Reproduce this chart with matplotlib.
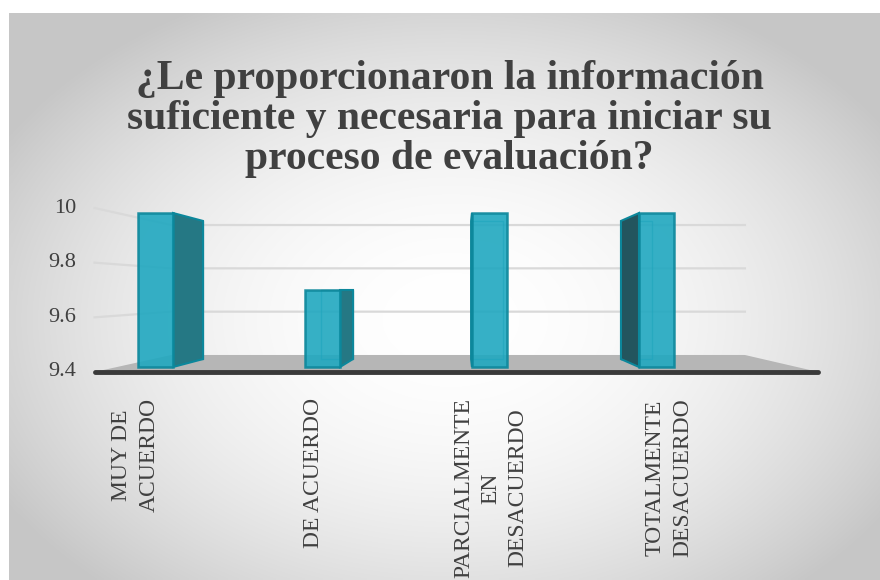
import numpy as np
import matplotlib
matplotlib.use("Agg")
import matplotlib.pyplot as plt

# data
categories = ["MUY DE\nACUERDO", "DE ACUERDO", "PARCIALMENTE\nEN\nDESACUERDO", "TOTALMENTE\nDESACUERDO"]
values = [10, 9.7, 10, 10]
yticks = [9.4, 9.6, 9.8, 10]
ytick_labels = ["9.4", "9.6", "9.8", "10"]
title = "¿Le proporcionaron la información\nsuficiente y necesaria para iniciar su\nproceso de evaluación?"

ymin = 9.4
bar_w = 0.21

# fake perspective (vanishing point + depth scale), all in data units of the bar plane
vx, vy = 1.847, 9.7
k_front, k_back = 1.065, 0.844
k_bar = 0.897
x_left, x_right = -0.23, 3.84

face_col = "#20a8c0"
edge_col = "#0c879b"
side_right = "#257884"
side_left = "#23555e"
txt_col = "#404040"


def proj(x, v, k):
    return vx + (x - vx) * k, vy + (v - vy) * k


fig = plt.figure(figsize=(8.8, 5.8), dpi=100)

# radial gradient background
bg = fig.add_axes([9 / 880, 0, 871 / 880, 567 / 580])
W, H = 871, 567
xx, yy = np.meshgrid(np.arange(W) + 9, np.arange(H) + 13)
t = ((xx - 450) / 520) ** 2 + ((yy - 320) / 360) ** 2
g = 255 - 57 * np.clip(t, 0, 1)
bg.imshow(np.dstack([g, g, g]).astype(np.uint8), aspect="auto", interpolation="bilinear")
bg.axis("off")

ax = fig.add_axes([0, 0, 1, 1])
ax.set_facecolor("none")
ax.set_xlim(-0.931, 4.338)
ax.set_ylim(8.570, 10.830)
ax.axis("off")

# floor
floor = [proj(x_left, ymin, k_front), proj(x_right, ymin, k_front),
         proj(x_right, ymin, k_back), proj(x_left, ymin, k_back)]
ax.fill([p[0] for p in floor], [p[1] for p in floor], color="#b6b6b6", zorder=1, lw=0)

# gridlines on back and left walls
for v, lab in zip(yticks, ytick_labels):
    p0 = proj(x_left, v, k_front)
    p1 = proj(x_left, v, k_back)
    p2 = proj(x_right, v, k_back)
    if v != ymin:
        ax.plot([p0[0], p1[0], p2[0]], [p0[1], p1[1], p2[1]], color="#d9d9d9", lw=1.6, zorder=2)
    ax.annotate(lab, p0, xytext=(-18, 0), textcoords="offset pixels",
                ha="right", va="center", fontsize=16, color=txt_col, family="Liberation Serif")

f0 = proj(x_left, ymin, k_front)
f1 = proj(x_right, ymin, k_front)
ax.plot([f0[0], f1[0]], [f0[1], f1[1]], color="#3a3a3a", lw=3.5, solid_capstyle="round", zorder=3)

# bars
for i, v in enumerate(values):
    xl, xr = i - bar_w / 2, i + bar_w / 2
    # hidden back edges seen through the glassy face
    b = [proj(xl, ymin, k_bar), proj(xr, ymin, k_bar), proj(xr, v, k_bar), proj(xl, v, k_bar), proj(xl, ymin, k_bar)]
    ax.plot([p[0] for p in b], [p[1] for p in b], color=edge_col, lw=1, alpha=0.6, zorder=4)
    # side face
    if i < vx:
        xs, col = xr, side_right
    else:
        xs, col = xl, side_left
    s = [(xs, ymin), (xs, v), proj(xs, v, k_bar), proj(xs, ymin, k_bar)]
    ax.fill([p[0] for p in s], [p[1] for p in s], color=col, ec=edge_col, lw=1.5, zorder=5)
    if v < vy:
        tp = [(xl, v), (xr, v), proj(xr, v, k_bar), proj(xl, v, k_bar)]
        ax.fill([p[0] for p in tp], [p[1] for p in tp], color=face_col, ec=edge_col, lw=1.2, zorder=5)

ax.bar(range(len(values)), [v - ymin for v in values], bottom=ymin, width=bar_w,
       color=face_col, alpha=0.9, edgecolor=edge_col, linewidth=1.8, zorder=6)

# category labels on the front edge
for i, lab in enumerate(categories):
    p = proj(i, ymin, k_front)
    ax.annotate(lab, p, xytext=(0, -26), textcoords="offset pixels", rotation=90,
                ha="center", va="top", multialignment="center", linespacing=1.38,
                fontsize=17, color=txt_col, family="Liberation Serif")

fig.text(0.511, 1 - 119 / 580, title, ha="center", va="center", fontsize=30, fontweight="bold",
         color=txt_col, family="Liberation Serif", linespacing=1.08)

fig.savefig("out.png", dpi=100)
